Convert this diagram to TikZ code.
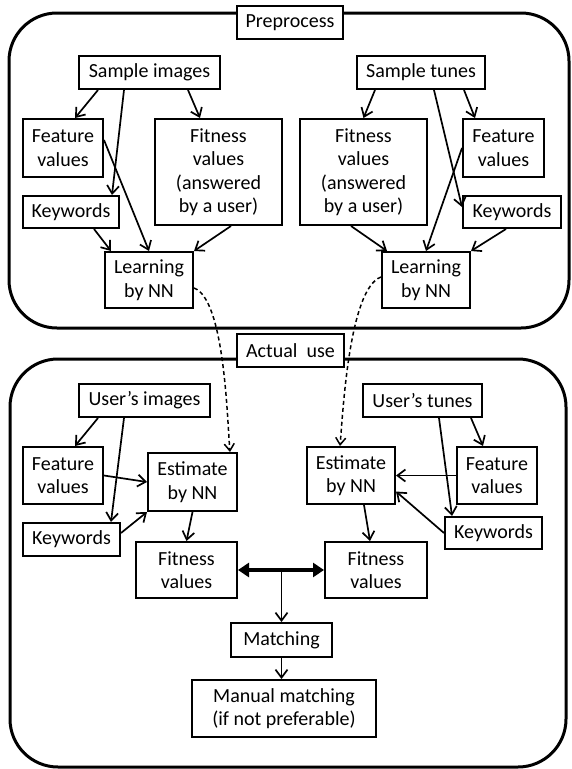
\documentclass[tikz,border=0pt]{standalone}
\usepackage{fontspec}
\setmainfont{Carlito}
\usetikzlibrary{arrows.meta}

\begin{document}
\begin{tikzpicture}[x=1pt, y=-1pt,
		box_style/.style={rectangle,draw=black,line width=2pt,fill=white,align=center,inner sep=1pt,font=\fontsize{20}{23.5}\selectfont},
		frame_style/.style={draw=black,line width=3pt,rounded corners=48pt},
		edge_style/.style={draw=black,line width=1.7pt,-{Straight Barb[length=8pt,width=12pt]}},
		dash_style/.style={draw=black,line width=1.5pt,dash pattern=on 4pt off 3pt,-{Straight Barb[length=7pt,width=10pt]}},
		both_style/.style={draw=black,line width=4pt,{Triangle[length=11pt,width=14pt]}-{Triangle[length=11pt,width=14pt]}}]

		\useasboundingbox (0,0) rectangle (571,769);

		\draw[frame_style] (9,13) rectangle (569,328);
		\draw[frame_style] (10,359) rectangle (566,767);

		\node[box_style,minimum width=106pt,minimum height=33pt] (pre) at (290,22.5) {Preprocess};
		\node[box_style,minimum width=141pt,minimum height=33pt] (simg) at (149.5,72.5) {Sample images};
		\node[box_style,minimum width=80pt,minimum height=58pt] (featL) at (63,148) {Feature\\values};
		\node[box_style,minimum width=127pt,minimum height=106pt] (fitL) at (218.5,172) {Fitness\\values\\(answered\\by a user)};
		\node[box_style,minimum width=96pt,minimum height=32pt] (keyL) at (71,212) {Keywords};
		\node[box_style,minimum width=88pt,minimum height=56pt] (learnL) at (149,280) {Learning\\by NN};
		\node[box_style,minimum width=128pt,minimum height=33pt] (stune) at (421,72.5) {Sample tunes};
		\node[box_style,minimum width=127pt,minimum height=106pt] (fitR) at (363.5,172) {Fitness\\values\\(answered\\by a user)};
		\node[box_style,minimum width=81pt,minimum height=58pt] (featR) at (503.5,148) {Feature\\values};
		\node[box_style,minimum width=98pt,minimum height=32pt] (keyR) at (512,212) {Keywords};
		\node[box_style,minimum width=88pt,minimum height=56pt] (learnR) at (426,280) {Learning\\by NN};

		\node[box_style,minimum width=107pt,minimum height=33pt] (act) at (290.5,350.5) {Actual~ use};
		\node[box_style,minimum width=131pt,minimum height=33pt] (uimg) at (144.5,400.5) {User’s images};
		\node[box_style,minimum width=80pt,minimum height=57pt] (featL2) at (63,475.5) {Feature\\values};
		\node[box_style,minimum width=89pt,minimum height=58pt] (estL) at (192.5,482) {Estimate\\by NN};
		\node[box_style,minimum width=97pt,minimum height=33pt] (keyL2) at (71.5,539.5) {Keywords};
		\node[box_style,minimum width=101pt,minimum height=56pt] (fitL2) at (186.5,570) {Fitness\\values};
		\node[box_style,minimum width=119pt,minimum height=33pt] (utune) at (422.5,400.5) {User’s tunes};
		\node[box_style,minimum width=88pt,minimum height=57pt] (estR) at (351,475.5) {Estimate\\by NN};
		\node[box_style,minimum width=80pt,minimum height=57pt] (featR2) at (497,475.5) {Feature\\values};
		\node[box_style,minimum width=97pt,minimum height=32pt] (keyR2) at (493.5,533) {Keywords};
		\node[box_style,minimum width=102pt,minimum height=56pt] (fitR2) at (376,570) {Fitness\\values};
		\node[box_style,minimum width=101pt,minimum height=34pt] (match) at (281.5,640) {Matching};
		\node[box_style,minimum width=184pt,minimum height=57pt] (manual) at (284,708.5) {Manual matching\\(if not preferable)};

		\draw[edge_style] ([xshift=-51.5pt]simg.south) -- ([xshift=12pt]featL.north);
		\draw[edge_style] ([xshift=-25.5pt]simg.south) -- ([xshift=41pt]keyL.north);
		\draw[edge_style] ([xshift=38.5pt]simg.south) -- ([xshift=-18.5pt]fitL.north);
		\draw[edge_style] ([yshift=8pt]featL.east) -- (learnL.north);
		\draw[edge_style] ([xshift=23pt]keyL.south) -- ([xshift=-38pt]learnL.north);
		\draw[edge_style] ([xshift=12.5pt]fitL.south) -- (learnL.north east);

		\draw[edge_style] ([xshift=-46pt]stune.south) -- (fitR.north);
		\draw[edge_style] ([xshift=13pt]stune.south) -- ([yshift=5pt]keyR.west);
		\draw[edge_style] ([xshift=43pt]stune.south) -- ([xshift=-28.5pt]featR.north);
		\draw[edge_style] (featR.west) -- (learnR.north);
		\draw[edge_style] ([xshift=-12.5pt]fitR.south) -- ([xshift=-39pt]learnR.north);
		\draw[edge_style] ([xshift=-6pt]keyR.south) -- (learnR.north east);

		\draw[dash_style] ([yshift=-8pt]learnL.east) to[out=-20,in=95,looseness=0.5] ([xshift=-8pt]estL.north east);
		\draw[dash_style] ([yshift=3pt]learnR.west) to[out=200,in=85,looseness=0.5] ([xshift=-11pt]estR.north);

		\draw[edge_style] ([xshift=-46.5pt]uimg.south) -- ([xshift=12pt]featL2.north);
		\draw[edge_style] ([xshift=-20.5pt]uimg.south) -- ([xshift=39.5pt]keyL2.north);
		\draw[edge_style] (featL2.east) -- (estL.west);
		\draw[edge_style] ([yshift=6.5pt]keyL2.east) -- (estL.south west);
		\draw[edge_style] (estL.south) -- (fitL2.north);

		\draw[edge_style] ([xshift=48.5pt]utune.south) -- ([xshift=-14pt]featR2.north);
		\draw[edge_style] ([xshift=16.5pt]utune.south) -- ([xshift=-41.5pt]keyR2.north);
		\draw[edge_style] (featR2.west) -- (estR.east);
		\draw[edge_style] (keyR2.west) -- ([yshift=-16pt]estR.east);
		\draw[edge_style] ([xshift=13pt]estR.south) -- ([xshift=-6pt]fitR2.north);

		\draw[both_style] (fitL2.east) -- (fitR2.west);
		\draw[edge_style] (fitL2.east -| match.north) -- (match.north);
		\draw[edge_style] (match.south) -- (match.south |- manual.north);
\end{tikzpicture}
\end{document}
